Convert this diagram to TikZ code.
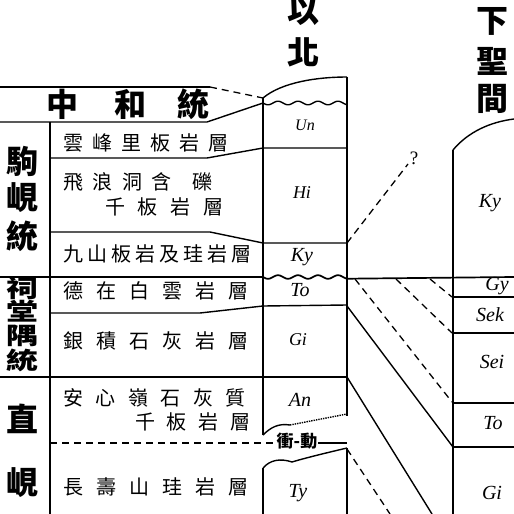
\documentclass[tikz,border=0pt]{standalone}
\usepackage{fontspec}
\setmainfont{Liberation Serif}
\newfontfamily\cjk{Noto Sans CJK TC}
\usetikzlibrary{positioning}
\newcommand{\gp}[1]{\hspace{#1pt}}

\begin{document}
\begin{tikzpicture}[x=1pt, y=-1pt, line join=round,
    unit/.style={font=\itshape\fontsize{20}{20}\selectfont, inner sep=0pt},
    fmtext/.style={font=\cjk\fontsize{20}{20}\selectfont, inner sep=0pt, anchor=west},
    grouptext/.style={font=\cjk\bfseries\fontsize{32}{32}\selectfont, inner sep=0pt},
    thinline/.style={line width=1.4pt},
    colline/.style={line width=2.8pt},
    dashline/.style={line width=1.3pt, dash pattern=on 7pt off 5pt}]
        \useasboundingbox (0,0) rectangle (514,514);

        % Titles
        \node[grouptext] (t1) at (303,11) {以};
        \node[grouptext] (t2) at (303,52) {北};
        \node[grouptext] (t3) at (492,21) {下};
        \node[grouptext] (t4) at (492,61) {聖};
        \node[grouptext] (t5) at (492,99) {間};

        % Chuwa
        \draw[thinline] (0,87) -- (210,87);
        \draw[dashline] (210,87) -- (263,98);
        \draw[thinline] (0,122) -- (207,122) -- (263,103);
        \node[grouptext] (ch1) at (62,104) {中};
        \node[grouptext] (ch2) at (130,104) {和};
        \node[grouptext] (ch3) at (193,104) {統};

        % Left frame
        \draw[line width=1.7pt] (50,122) -- (50,514);
        \node[grouptext] (g1) at (22,161) {駒};
        \node[grouptext] (g2) at (22,198) {峴};
        \node[grouptext] (g3) at (22,236) {統};
        \node[grouptext] (g4) at (22,288) {\scalebox{1}[0.74]{祠}};
        \node[grouptext] (g5) at (22,311) {\scalebox{1}[0.74]{堂}};
        \node[grouptext] (g6) at (22,336) {\scalebox{1}[0.74]{隅}};
        \node[grouptext] (g7) at (22,360) {\scalebox{1}[0.74]{統}};
        \node[grouptext] (g8) at (22,419) {直};
        \node[grouptext] (g9) at (22,483) {峴};

        % Formations
        \draw[thinline] (50,158) -- (207,158) -- (263,148) -- (347,148);
        \draw[thinline] (50,232) -- (210,232) -- (263,243) -- (347,243);
        \draw[line width=1.7pt] (0,277) -- (263,277)
            -- plot[domain=263:347, samples=60] (\x, {277+1.8*sin(18*(\x-263))})
            -- (514,277);
        \draw[thinline] (50,313) -- (200,313) -- (263,306) -- (347,305);
        \draw[line width=1.9pt] (0,377) -- (347,377);
        \node[fmtext] (f1) at (63,143) {雲\gp{9}峰\gp{9}里\gp{9}板\gp{9}岩\gp{9}層};
        \node[fmtext] (f2) at (63,182) {飛\gp{9.5}浪\gp{9.5}洞\gp{9.5}含\gp{21}礫};
        \node[fmtext] (f3) at (105,207) {千\gp{12.7}板\gp{12.7}岩\gp{12.7}層};
        \node[fmtext] (f4) at (63,254) {九\gp{4}山\gp{4}板\gp{4}岩\gp{4}及\gp{4}珪\gp{4}岩\gp{4}層};
        \node[fmtext] (f5) at (63,291) {德\gp{13}在\gp{13}白\gp{13}雲\gp{13}岩\gp{13}層};
        \node[fmtext] (f6) at (63,341) {銀\gp{13}積\gp{13}石\gp{13}灰\gp{13}岩\gp{13}層};
        \node[fmtext] (f7) at (63,398) {安\gp{12.5}心\gp{12.5}嶺\gp{12.5}石\gp{12.5}灰\gp{12.5}質};
        \node[fmtext] (f8) at (135,422) {千\gp{11.7}板\gp{11.7}岩\gp{11.7}層};
        \node[fmtext] (f9) at (63,487) {長\gp{13}壽\gp{13}山\gp{13}珪\gp{13}岩\gp{13}層};

        % Fault
        \node[font=\cjk\bfseries\fontsize{17}{17}\selectfont, inner sep=1pt] (fault) at (297,441) {衝-動};
        \draw[dashline] (50,443) -- (fault.west |- 0,443);
        \draw[thinline] (fault.east |- 0,443) -- (347,443);

        % Column Ibuk
        \draw[colline] (263,435) -- (263,98);
        \draw[colline] (347,77) -- (347,416);
        \draw[thinline] (263,98) .. controls (282,82) and (318,77) .. (347,77);
        \draw[thinline] plot[domain=263:347, samples=60] (\x, {103+1.8*sin(18*(\x-263))});
        \draw[thinline] (263,435) .. controls (270,428) and (278,423) .. (290,425);
        \draw[thinline, densely dotted] (290,425) -- (347,414);
        \draw[thinline] (263,468) .. controls (270,460) and (280,458) .. (292,462)
            .. controls (305,458) and (330,452) .. (347,448);
        \draw[colline] (263,468) -- (263,514);
        \draw[colline] (347,448) -- (347,514);
        \node[unit, font=\itshape\fontsize{16}{16}\selectfont] (un) at (305,125) {Un};
        \node[unit, font=\itshape\fontsize{18}{18}\selectfont] (hi) at (302,193) {Hi};
        \node[unit] (ky) at (302,257) {Ky};
        \node[unit] (to) at (300,290) {To};
        \node[unit, font=\itshape\fontsize{18}{18}\selectfont] (gi) at (298,340) {Gi};
        \node[unit] (an) at (300,400) {An};
        \node[unit] (ty) at (298,493) {Ty};

        % Correlation lines
        \draw[dashline] (347,243) -- (408,164);
        \node[font=\fontsize{19}{19}\selectfont, inner sep=0pt] (q) at (414,158) {?};
        \draw[dashline] (355,279) -- (452,402);
        \draw[dashline] (396,279) -- (452,333);
        \draw[dashline] (430,279) -- (452,297);
        \draw[thinline] (347,306) -- (453,447);
        \draw[thinline] (347,377) -- (432,514);
        \draw[dashline] (347,449) -- (390,514);

        % Column Kasei
        \draw[colline] (453,150) -- (453,514);
        \draw[thinline] (453,150) .. controls (468,132) and (490,122) .. (514,119);
        \draw[thinline] (453,297) -- (514,297);
        \draw[thinline] (453,333) -- (514,333);
        \draw[thinline] (453,403) -- (514,403);
        \draw[thinline] (453,447) -- (514,447);
        \node[unit] (ky2) at (490,203) {Ky};
        \node[unit] (gy2) at (497,286) {Gy};
        \node[unit] (sek) at (490,315) {Sek};
        \node[unit] (sei) at (492,362) {Sei};
        \node[unit] (to2) at (493,423) {To};
        \node[unit] (gi2) at (492,493) {Gi};
\end{tikzpicture}
\end{document}
